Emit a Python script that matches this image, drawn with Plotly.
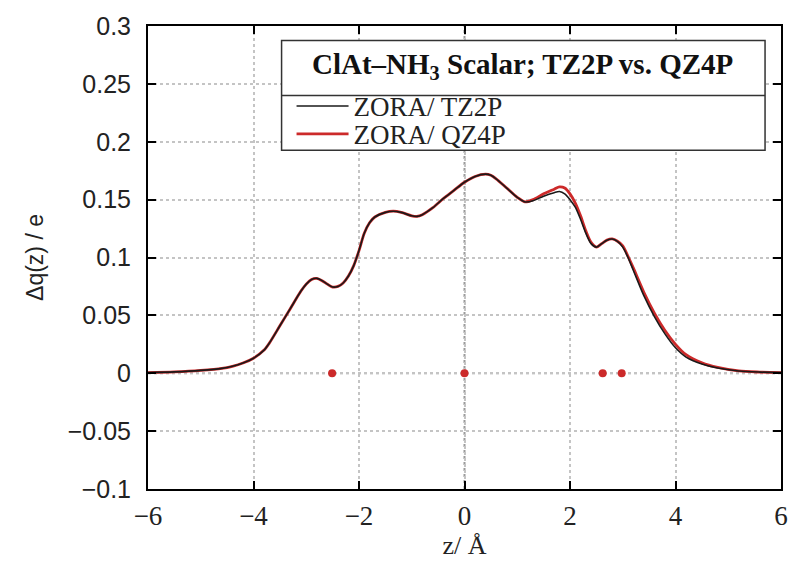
import plotly.graph_objects as go

z = [-6, -5.5, -5.0, -4.6, -4.4, -4.2, -4.0, -3.8, -3.7, -3.5, -3.3, -3.1, -3.0, -2.9, -2.8, -2.7,
     -2.6, -2.5, -2.4, -2.3, -2.2, -2.1, -2.0, -1.9, -1.8, -1.7, -1.5, -1.35, -1.2, -1.0, -0.9,
     -0.8, -0.6, -0.4, -0.2, 0.0, 0.2, 0.4, 0.5, 0.6, 0.8, 1.0, 1.15, 1.3, 1.5, 1.7, 1.8, 1.9,
     2.0, 2.1, 2.2, 2.3, 2.4, 2.5, 2.6, 2.7, 2.8, 2.9, 3.0, 3.1, 3.2, 3.4, 3.6, 3.8, 4.0, 4.2,
     4.5, 4.8, 5.2, 5.6, 6.0]

tz2p = [0.0005, 0.0012, 0.0025, 0.0042, 0.006, 0.0088, 0.013, 0.020, 0.026, 0.041, 0.056, 0.071,
        0.077, 0.081, 0.082, 0.080, 0.077, 0.0745, 0.075, 0.078, 0.084, 0.093, 0.106, 0.121, 0.130,
        0.135, 0.139, 0.140, 0.139, 0.136, 0.1355, 0.137, 0.143, 0.151, 0.158, 0.165, 0.170, 0.172,
        0.171, 0.168, 0.160, 0.152, 0.148, 0.149, 0.153, 0.156, 0.157, 0.155, 0.150, 0.1435, 0.133,
        0.121, 0.112, 0.109, 0.112, 0.115, 0.116, 0.114, 0.109, 0.100, 0.089, 0.067, 0.049, 0.034,
        0.022, 0.014, 0.008, 0.0045, 0.002, 0.001, 0.0005]

qz4p = [0.0005, 0.0012, 0.0025, 0.0042, 0.006, 0.0088, 0.013, 0.020, 0.026, 0.041, 0.056, 0.071,
        0.077, 0.081, 0.082, 0.080, 0.077, 0.0745, 0.075, 0.078, 0.084, 0.093, 0.106, 0.121, 0.130,
        0.135, 0.139, 0.140, 0.139, 0.136, 0.1355, 0.137, 0.143, 0.151, 0.158, 0.165, 0.170, 0.172,
        0.171, 0.168, 0.160, 0.152, 0.148, 0.150, 0.155, 0.159, 0.161, 0.160, 0.155, 0.147, 0.136,
        0.123, 0.113, 0.109, 0.112, 0.115, 0.116, 0.114, 0.110, 0.101, 0.091, 0.070, 0.052, 0.037,
        0.025, 0.016, 0.009, 0.005, 0.002, 0.001, 0.0005]

atom_z = [-2.51, 0.0, 2.62, 2.98]
atom_q = [0.0, 0.0, 0.0, 0.0]

x_ticks = [-6, -4, -2, 0, 2, 4, 6]
y_ticks = [-0.1, -0.05, 0, 0.05, 0.1, 0.15, 0.2, 0.25, 0.3]
y_ticktext = ["\u22120.1", "\u22120.05", "0", "0.05", "0.1", "0.15", "0.2", "0.25", "0.3"]
x_ticktext = ["\u22126", "\u22124", "\u22122", "0", "2", "4", "6"]

RED = "#cc2a2a"
SERIF = "Liberation Serif"
SANS = "Liberation Sans"

fig = go.Figure()
fig.add_trace(go.Scatter(x=z, y=qz4p, mode="lines", name="ZORA/ QZ4P",
                         line=dict(color=RED, width=2.8, shape="spline", smoothing=0.8),
                         legend="legend2"))
fig.add_trace(go.Scatter(x=z, y=tz2p, mode="lines", name="ZORA/ TZ2P",
                         line=dict(color="#1a1a1a", width=1.6, shape="spline", smoothing=0.8),
                         legend="legend"))
fig.add_trace(go.Scatter(x=atom_z, y=atom_q, mode="markers", showlegend=False,
                         marker=dict(color=RED, size=8)))

L, R, T, B = 148, 17, 25.5, 81
W, H = 800, 570
pw, ph = W - L - R, H - T - B

def px(xp):
    return (xp - L) / pw

def py(yp):
    return (H - B - yp) / ph

axis_common = dict(showline=True, linecolor="black", linewidth=2, mirror="allticks",
                   ticks="inside", ticklen=8, tickwidth=1.5, tickcolor="black",
                   showgrid=True, gridcolor="#c4c4c4", griddash="dot", gridwidth=1.5,
                   zeroline=False)

fig.update_layout(
    width=W, height=H,
    margin=dict(l=L, r=R, t=T, b=B),
    plot_bgcolor="white", paper_bgcolor="white",
    xaxis=dict(range=[-6, 6], tickvals=x_ticks, ticktext=x_ticktext,
               tickfont=dict(family=SERIF, size=27, color="#222"), ticklabelstandoff=2,
               title=dict(text="z/ Å", font=dict(family=SERIF, size=26, color="#222"), standoff=0),
               **axis_common),
    yaxis=dict(range=[-0.1, 0.3], tickvals=y_ticks, ticktext=y_ticktext,
               tickfont=dict(family=SANS, size=25, color="#222"), ticklabelstandoff=10,
               title=dict(text="\u0394q(z) / e", font=dict(family=SANS, size=23, color="#222"), standoff=18),
               **axis_common),
    legend=dict(x=px(292), y=py(106), xanchor="left", yanchor="middle",
                font=dict(family=SERIF, size=27, color="#222"), bgcolor="rgba(0,0,0,0)",
                itemwidth=52),
    legend2=dict(x=px(292), y=py(134), xanchor="left", yanchor="middle",
                 font=dict(family=SERIF, size=27, color="#222"), bgcolor="rgba(0,0,0,0)",
                 itemwidth=52),
    showlegend=True,
)

# zero lines (dotted)
fig.add_shape(type="line", xref="x", yref="paper", x0=0, x1=0, y0=0, y1=1,
              line=dict(color="#9a9a9a", width=2, dash="dot"), layer="below")
fig.add_shape(type="line", xref="paper", yref="y", x0=0, x1=1, y0=0, y1=0,
              line=dict(color="#9a9a9a", width=2, dash="dot"), layer="below")

# legend frame with title row
fig.add_shape(type="rect", xref="paper", yref="paper", x0=px(282), x1=px(767),
              y0=py(150), y1=py(40), line=dict(color="#333", width=1.5),
              fillcolor="white", layer="above")
fig.add_shape(type="line", xref="paper", yref="paper", x0=px(282), x1=px(767),
              y0=py(95), y1=py(95), line=dict(color="#333", width=1.5), layer="above")
fig.add_annotation(xref="paper", yref="paper", x=px(524), y=py(66), showarrow=False,
                   text="<b>ClAt\u2013NH<sub>3</sub> Scalar; TZ2P vs. QZ4P</b>",
                   font=dict(family=SERIF, size=29, color="#111"),
                   xanchor="center", yanchor="middle")

fig.write_html("out.html")
